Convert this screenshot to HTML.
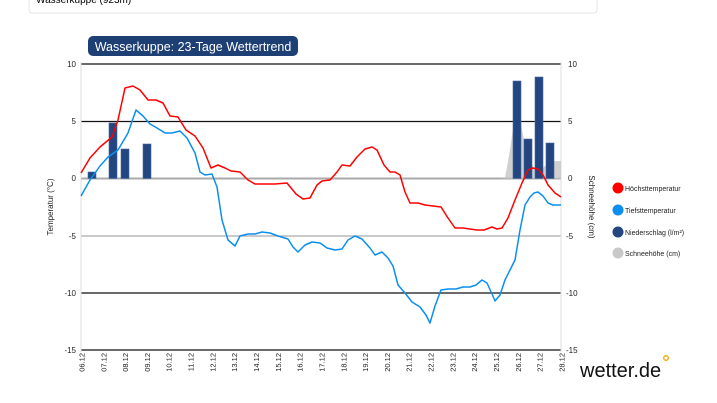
<!DOCTYPE html>
<html><head><meta charset="utf-8"><style>
html,body{margin:0;padding:0;background:#fff;width:717px;height:403px;overflow:hidden;font-family:"Liberation Sans",sans-serif}
</style></head><body>
<svg width="717" height="403" xmlns="http://www.w3.org/2000/svg" font-family="Liberation Sans, sans-serif">
<rect x="29" y="-12" width="568" height="25" rx="3" fill="#fff" stroke="#e4e4e4"/>
<text x="36" y="3" font-size="10" fill="#000">Wasserkuppe (923m)</text>
<rect x="88" y="36" width="210" height="20" rx="5" fill="#1e3f73"/>
<text x="193" y="51" font-size="12.5" fill="#fff" text-anchor="middle">Wasserkuppe: 23-Tage Wettertrend</text>
<!-- grid -->
<g stroke-width="1.2">
<line x1="81" y1="64" x2="561" y2="64" stroke="#111"/>
<line x1="81" y1="121.5" x2="561" y2="121.5" stroke="#111"/>
<line x1="81" y1="178.5" x2="561" y2="178.5" stroke="#aaa" stroke-width="2"/>
<line x1="81" y1="236" x2="561" y2="236" stroke="#aaa"/>
<line x1="81" y1="293" x2="561" y2="293" stroke="#111"/>
<line x1="81" y1="350" x2="561" y2="350" stroke="#111"/>
</g>
<line x1="81" y1="62" x2="81" y2="352" stroke="#ddd"/>
<line x1="561" y1="62" x2="561" y2="352" stroke="#ddd"/>
<g font-size="8" fill="#222" text-anchor="end">
<text x="76" y="67">10</text><text x="76" y="124">5</text><text x="76" y="181">0</text><text x="76" y="239">-5</text><text x="76" y="296">-10</text><text x="76" y="353">-15</text>
</g>
<g font-size="8" fill="#222">
<text x="568" y="67">10</text><text x="568" y="124">5</text><text x="568" y="181">0</text><text x="566" y="239">-5</text><text x="566" y="296">-10</text><text x="566" y="353">-15</text>
</g>
<text transform="translate(53,207) rotate(-90)" font-size="8" text-anchor="middle" fill="#222">Temperatur (°C)</text>
<text transform="translate(589,207) rotate(90)" font-size="8" text-anchor="middle" fill="#222">Schneehöhe (cm)</text>
<!-- snow -->
<polygon points="500,178.5 505,178 510,150 517,100 522,130 528,160 534,168 539,172 545,166 550,163 555,161 561,161 561,178.5" fill="#c8c8c8" opacity="0.85"/>
<!-- bars -->
<g fill="#234680" stroke="#4a6aa0" stroke-width="0.6">
<rect x="88" y="172" width="8" height="6.5"/>
<rect x="109" y="123" width="8" height="55.5"/>
<rect x="121" y="149" width="8" height="29.5"/>
<rect x="143" y="144" width="8" height="34.5"/>
<rect x="513" y="81" width="8" height="97.5"/>
<rect x="524" y="139" width="8" height="39.5"/>
<rect x="535" y="77" width="8" height="101.5"/>
<rect x="546" y="143" width="8" height="35.5"/>
</g>
<polyline fill="none" stroke="#ff0000" stroke-width="1.5" stroke-linejoin="round" points="81,173 90,158 100,147 112,137 118,120 125,88 133,86 140,90 148,100 156,100 163,103 170,116 178,117 186,130 195,136 203,148 211,168 218,165 225,168 231,171 240,172 248,180 255,184 265,184 275,184 287,183 296,194 303,199 310,198 317,185 322,181 330,180 337,172 342,165 350,166 357,157 365,149 372,147 377,150 384,165 390,172 395,172 400,175 405,192 410,203 418,203 425,205 433,206 441,207 448,218 455,228 463,228 470,229 477,230 484,230 492,227 497,229 502,228 508,218 515,200 522,183 528,170 533,168 538,169 543,175 548,185 555,193 561,197"/>
<polyline fill="none" stroke="#0a8ff0" stroke-width="1.5" stroke-linejoin="round" points="81,196 90,180 100,166 108,157 118,150 128,133 136,110 143,116 150,124 157,128 165,133 172,133 180,131 187,138 195,153 200,172 205,175 212,174 217,187 222,220 228,240 235,246 240,236 248,234 255,234 262,232 270,233 278,236 288,239 293,247 298,252 305,245 312,242 320,243 327,248 335,250 342,249 348,240 355,236 362,239 370,248 375,255 382,252 388,258 393,266 398,285 405,293 412,302 420,307 426,315 430,323 435,306 441,290 448,289 456,289 463,287 470,287 476,285 482,280 487,283 492,294 495,301 500,295 505,280 510,270 515,260 520,230 525,205 530,197 534,193 538,192 543,196 548,203 553,205 561,205"/>
<!-- date labels -->
<g font-size="7.5" fill="#222" text-anchor="end">
<text transform="translate(84.5,353) rotate(-90)">06.12</text><text transform="translate(106.3,353) rotate(-90)">07.12</text><text transform="translate(128.1,353) rotate(-90)">08.12</text><text transform="translate(149.9,353) rotate(-90)">09.12</text><text transform="translate(171.7,353) rotate(-90)">10.12</text><text transform="translate(193.6,353) rotate(-90)">11.12</text><text transform="translate(215.4,353) rotate(-90)">12.12</text><text transform="translate(237.2,353) rotate(-90)">13.12</text><text transform="translate(259,353) rotate(-90)">14.12</text><text transform="translate(280.8,353) rotate(-90)">15.12</text><text transform="translate(302.6,353) rotate(-90)">16.12</text><text transform="translate(324.4,353) rotate(-90)">17.12</text><text transform="translate(346.3,353) rotate(-90)">18.12</text><text transform="translate(368.1,353) rotate(-90)">19.12</text><text transform="translate(389.9,353) rotate(-90)">20.12</text><text transform="translate(411.7,353) rotate(-90)">21.12</text><text transform="translate(433.5,353) rotate(-90)">22.12</text><text transform="translate(455.3,353) rotate(-90)">23.12</text><text transform="translate(477.1,353) rotate(-90)">24.12</text><text transform="translate(499,353) rotate(-90)">25.12</text><text transform="translate(520.8,353) rotate(-90)">26.12</text><text transform="translate(542.6,353) rotate(-90)">27.12</text><text transform="translate(564.4,353) rotate(-90)">28.12</text>
</g>
<!-- legend -->
<g font-size="7" fill="#222">
<circle cx="618" cy="188" r="5.5" fill="#ff0000"/><text x="625" y="191">Höchsttemperatur</text>
<circle cx="618" cy="210" r="5.5" fill="#0a8ff0"/><text x="625" y="213">Tiefsttemperatur</text>
<circle cx="618" cy="232" r="5.5" fill="#234680"/><text x="625" y="235">Niederschlag (l/m²)</text>
<circle cx="618" cy="253" r="5.5" fill="#c8c8c8"/><text x="625" y="256">Schneehöhe (cm)</text>
</g>
<text x="580" y="377" font-size="20" fill="#111">wetter.de</text>
<circle cx="666" cy="358" r="2.3" fill="none" stroke="#f5a800" stroke-width="1.3"/>
</svg>
</body></html>
